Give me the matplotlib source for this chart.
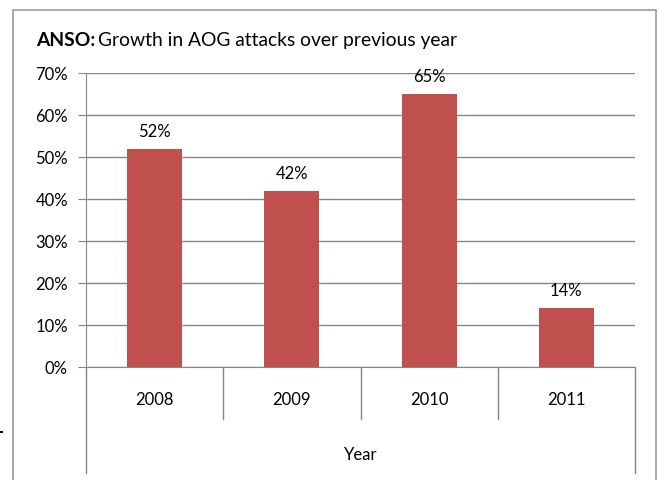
import matplotlib
matplotlib.use("Agg")
import matplotlib.pyplot as plt
from matplotlib.patches import Rectangle
from matplotlib.lines import Line2D
from matplotlib.ticker import FuncFormatter

# Data
years = ["2008", "2009", "2010", "2011"]
growth = [0.52, 0.42, 0.65, 0.14]
bar_color = "#C0504D"
grid_color = "#868686"

plt.rcParams["font.family"] = ["Lato", "DejaVu Sans"]

W, H = 660, 481
fig = plt.figure(figsize=(W / 100, H / 100), dpi=100)

def fx(px):
    return px / W

def fy(py):
    return 1 - py / H

# plot area (pixel positions from the reference)
left, right, top, bottom = 86, 635, 74, 368
ax = fig.add_axes([fx(left), fy(bottom), fx(right - left), (bottom - top) / H])

x = range(len(years))
ax.bar(x, growth, width=0.4, color=bar_color, zorder=3)
ax.set_xlim(-0.5, len(years) - 0.5)
ax.set_ylim(0, 0.7)
ax.set_yticks([i / 10 for i in range(8)])
ax.yaxis.set_major_formatter(FuncFormatter(lambda v, p: "%d%%" % round(v * 100)))
ax.grid(axis="y", color=grid_color, lw=1, zorder=0)
ax.tick_params(axis="y", length=6, color=grid_color, pad=7, labelsize=12)
ax.set_xticks([])
for s in ["top", "right"]:
    ax.spines[s].set_visible(False)
for s in ["left", "bottom"]:
    ax.spines[s].set_color(grid_color)

for xi, v in zip(x, growth):
    ax.annotate("%d%%" % round(v * 100), (xi, v), xytext=(0, 18),
                textcoords="offset pixels", ha="center", va="center", fontsize=12)

# category axis below the plot, Excel style
cat_w = (right - left) / len(years)
for i in range(len(years) + 1):
    xp = left + i * cat_w
    yend = 474 if i in (0, len(years)) else 420
    fig.add_artist(Line2D([fx(xp), fx(xp)], [fy(bottom), fy(yend)],
                          color=grid_color, lw=1))
for i, yr in enumerate(years):
    fig.text(fx(left + (i + 0.5) * cat_w), fy(400), yr, ha="center", va="center",
             fontsize=12)
fig.text(fx((left + right) / 2), fy(455), "Year", ha="center", va="center",
         fontsize=12)

# chart frame
fig.add_artist(Rectangle((fx(13), fy(520)), fx(656 - 13), (520 - 11) / H,
                         fill=False, edgecolor="#9A9A9A", lw=1.2))
fig.add_artist(Rectangle((0, fy(434)), fx(3), 2 / H, color="black", lw=0))

# title with bold prefix
t1 = fig.text(fx(36), fy(41), "ANSO:", fontsize=13.9, fontweight="bold",
              va="center", ha="left")
fig.canvas.draw()
bb = t1.get_window_extent(fig.canvas.get_renderer())
fig.text(fx(bb.x1 + 3), fy(41), "Growth in AOG attacks over previous year",
         fontsize=13.9, va="center", ha="left")

fig.savefig("out.png", dpi=100)
